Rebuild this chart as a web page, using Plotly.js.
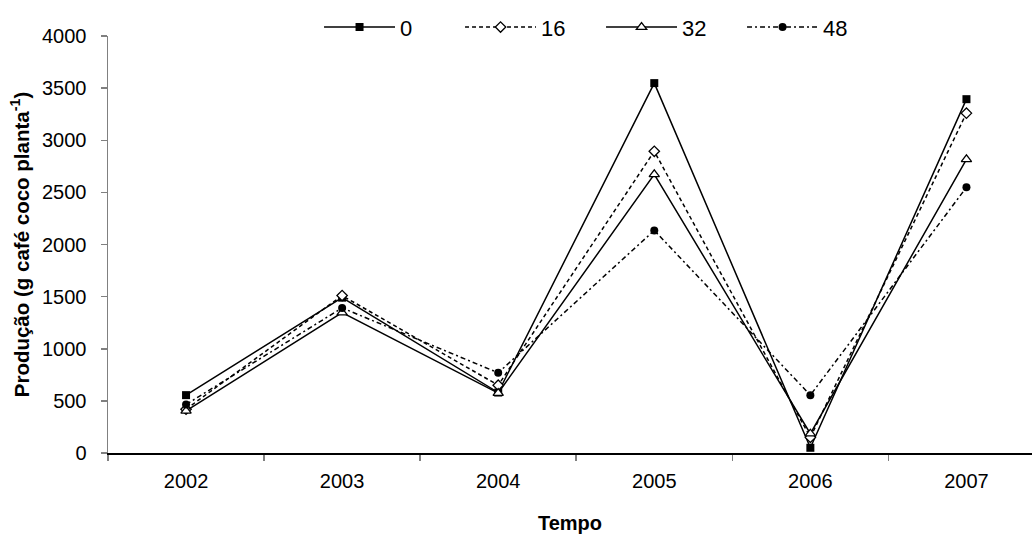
<!DOCTYPE html>
<html>
<head>
<meta charset="utf-8">
<script src="https://cdn.plot.ly/plotly-3.0.1.min.js"></script>
<style>
  html, body { margin: 0; padding: 0; background: #fff; }
  #chart { width: 1032px; height: 537px; }
</style>
</head>
<body>
<div id="chart"></div>
<script>
// Coffee yield per plant, by year and dose
const years = ['2002', '2003', '2004', '2005', '2006', '2007'];
const dose0  = [555, 1490, 580, 3548, 50, 3394];
const dose16 = [420, 1510, 650, 2894, 150, 3260];
const dose32 = [405, 1346, 575, 2673, 185, 2817];
const dose48 = [465, 1392, 769, 2135, 555, 2548];
const yTicks = [0, 500, 1000, 1500, 2000, 2500, 3000, 3500, 4000];

const FONT = 'Arial, "Liberation Sans", sans-serif';

function series(name, values, dash, symbol, fill) {
  return {
    type: 'scatter',
    mode: 'lines+markers',
    name: name,
    x: years,
    y: values,
    cliponaxis: false,
    line: { color: '#000', width: 1.5, dash: dash },
    marker: {
      symbol: symbol,
      size: symbol === 'triangle-up' ? 9 : 8,
      color: fill,
      line: { color: '#000', width: fill === '#fff' ? 1.3 : 0 }
    }
  };
}

const traces = [
  series('0',  dose0,  'solid',           'square',      '#000'),
  series('16', dose16, '4px,3px',         'diamond',     '#fff'),
  series('32', dose32, 'solid',           'triangle-up', '#fff'),
  series('48', dose48, '5px,3px,2px,3px', 'circle',      '#000')
];

const layout = {
  width: 1032,
  height: 537,
  margin: { l: 108, r: 0, t: 36, b: 84, autoexpand: false },
  paper_bgcolor: '#fff',
  plot_bgcolor: '#fff',
  font: { family: FONT, color: '#000', size: 20 },
  showlegend: true,
  legend: {
    orientation: 'h',
    x: 0.2284, xanchor: 'left',
    y: 1.021, yanchor: 'middle',
    font: { family: FONT, size: 22, color: '#000' },
    itemwidth: 71,
    entrywidth: 55,
    bgcolor: 'rgba(0,0,0,0)'
  },
  xaxis: {
    type: 'category',
    range: [-0.5, 5.42],
    tickson: 'boundaries',
    ticks: 'outside',
    ticklen: 6,
    tickcolor: '#808080',
    tickwidth: 1.5,
    ticklabelstandoff: 9,
    showline: true,
    linecolor: '#000',
    linewidth: 1.5,
    showgrid: false,
    zeroline: false,
    tickfont: { family: FONT, size: 20, color: '#000' },
    title: {
      text: 'Tempo',
      standoff: 25,
      font: { family: FONT, size: 20, color: '#000', weight: 'bold' }
    }
  },
  yaxis: {
    range: [0, 4000],
    tickvals: yTicks,
    ticktext: yTicks.map(String),
    ticks: 'outside',
    ticklen: 6,
    tickcolor: '#808080',
    tickwidth: 1.5,
    ticklabelstandoff: 10,
    showline: true,
    linecolor: '#808080',
    linewidth: 1.5,
    showgrid: false,
    zeroline: false,
    tickfont: { family: FONT, size: 20, color: '#000' },
    title: {
      text: 'Produção (g café coco planta<sup>-1</sup>)',
      standoff: 7,
      font: { family: FONT, size: 20.5, color: '#000', weight: 'bold' }
    }
  }
};

Plotly.newPlot('chart', traces, layout, { staticPlot: true, displayModeBar: false });
</script>
</body>
</html>
